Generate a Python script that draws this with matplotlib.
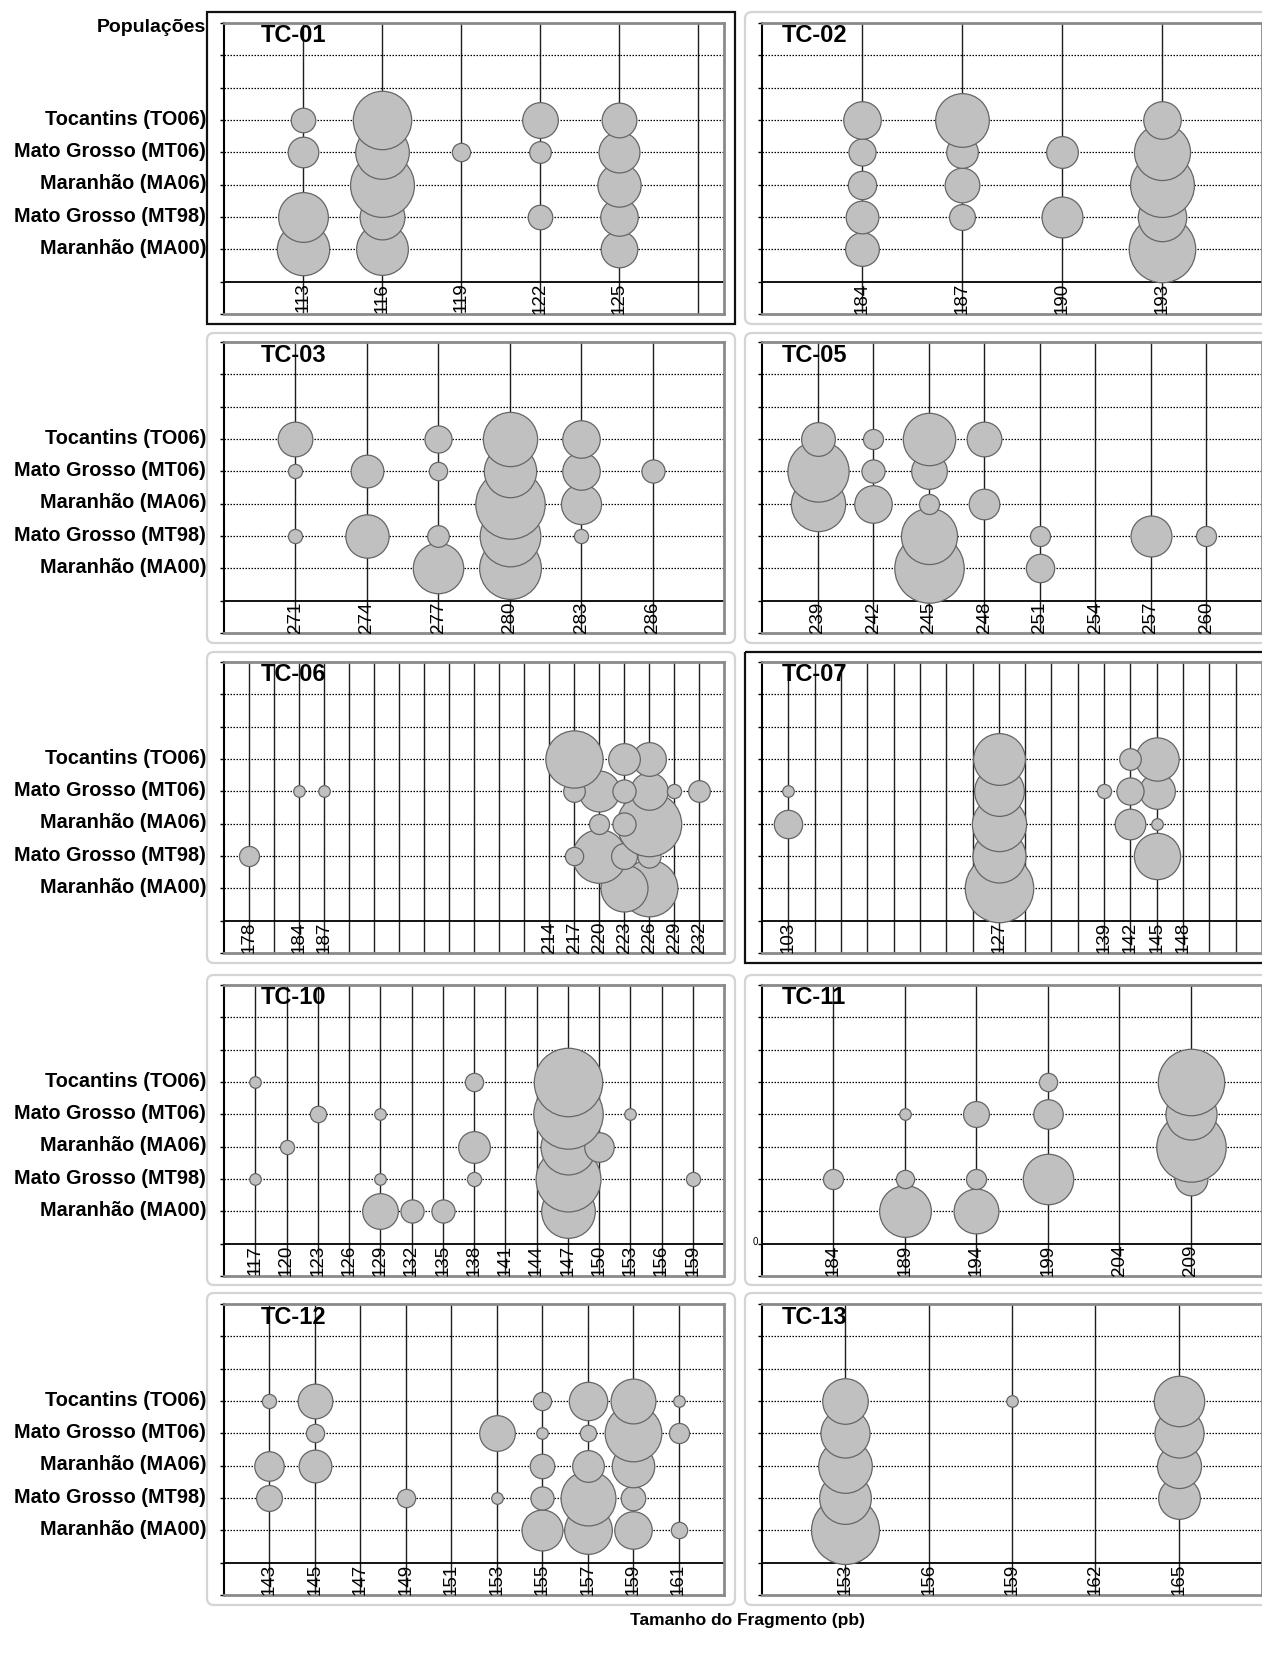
import matplotlib
matplotlib.use("Agg")
import matplotlib.pyplot as plt
from matplotlib.patches import FancyBboxPatch, Rectangle
import numpy as np

plt.rcParams['font.family'] = ['Liberation Sans', 'DejaVu Sans']

# ---------------------------------------------------------------------------
# Data: allele frequencies per microsatellite locus
# rows follow `populations` (y = 1 .. 5), columns follow the allele list
# ---------------------------------------------------------------------------
populations = ["Maranhão (MA00)", "Mato Grosso (MT98)", "Maranhão (MA06)",
               "Mato Grosso (MT06)", "Tocantins (TO06)"]

tc01_alleles = [113, 116, 119, 122, 125]
tc01_freq = [[0.41, 0.40, 0.00, 0.00, 0.20],
             [0.37, 0.30, 0.00, 0.09, 0.21],
             [0.00, 0.61, 0.00, 0.00, 0.28],
             [0.14, 0.43, 0.05, 0.07, 0.25],
             [0.09, 0.51, 0.00, 0.19, 0.18]]
tc01_labels = [113, 116, 119, 122, 125]

tc02_alleles = [184, 187, 190, 193]
tc02_freq = [[0.17, 0.00, 0.00, 0.66],
             [0.16, 0.10, 0.25, 0.35],
             [0.12, 0.18, 0.00, 0.61],
             [0.11, 0.15, 0.15, 0.47],
             [0.21, 0.43, 0.00, 0.21]]
tc02_labels = [184, 187, 190, 193]

tc03_alleles = [271, 274, 277, 280, 283, 286]
tc03_freq = [[0.00, 0.00, 0.38, 0.57, 0.00, 0.00],
             [0.03, 0.28, 0.07, 0.55, 0.03, 0.00],
             [0.00, 0.00, 0.00, 0.72, 0.24, 0.00],
             [0.03, 0.16, 0.05, 0.41, 0.21, 0.08],
             [0.18, 0.00, 0.11, 0.44, 0.21, 0.00]]
tc03_labels = [271, 274, 277, 280, 283, 286]

tc05_alleles = [239, 242, 245, 248, 251, 257, 260]
tc05_freq = [[0.00, 0.00, 0.72, 0.00, 0.12, 0.00, 0.00],
             [0.00, 0.00, 0.47, 0.00, 0.06, 0.25, 0.06],
             [0.44, 0.21, 0.06, 0.14, 0.00, 0.00, 0.00],
             [0.56, 0.08, 0.19, 0.00, 0.00, 0.00, 0.00],
             [0.17, 0.06, 0.41, 0.18, 0.00, 0.00, 0.00]]
tc05_labels = [239, 242, 245, 248, 251, 254, 257, 260]

tc06_alleles = [178, 184, 187, 217, 220, 223, 226, 229, 232]
tc06_freq = [[0.00, 0.00, 0.00, 0.00, 0.00, 0.33, 0.48, 0.00, 0.00],
             [0.06, 0.00, 0.00, 0.05, 0.43, 0.10, 0.08, 0.00, 0.00],
             [0.00, 0.00, 0.00, 0.00, 0.06, 0.08, 0.62, 0.00, 0.00],
             [0.00, 0.02, 0.02, 0.07, 0.25, 0.08, 0.21, 0.03, 0.07],
             [0.00, 0.00, 0.00, 0.49, 0.00, 0.15, 0.17, 0.00, 0.00]]
tc06_labels = [178, 184, 187, 214, 217, 220, 223, 226, 229, 232]

tc07_alleles = [103, 127, 139, 142, 145]
tc07_freq = [[0.00, 0.70, 0.00, 0.00, 0.00],
             [0.00, 0.42, 0.00, 0.00, 0.32],
             [0.12, 0.44, 0.00, 0.14, 0.02],
             [0.02, 0.37, 0.03, 0.11, 0.19],
             [0.00, 0.40, 0.00, 0.07, 0.28]]
tc07_labels = [103, 127, 139, 142, 145, 148]

tc10_alleles = [117, 120, 123, 129, 132, 135, 138, 147, 150, 153, 159]
tc10_freq = [[0.00, 0.00, 0.00, 0.19, 0.08, 0.08, 0.00, 0.43, 0.00, 0.00, 0.00],
             [0.02, 0.00, 0.00, 0.02, 0.00, 0.00, 0.03, 0.63, 0.00, 0.00, 0.03],
             [0.00, 0.03, 0.00, 0.00, 0.00, 0.00, 0.15, 0.45, 0.13, 0.00, 0.00],
             [0.00, 0.00, 0.04, 0.02, 0.00, 0.00, 0.00, 0.72, 0.00, 0.02, 0.00],
             [0.02, 0.00, 0.00, 0.00, 0.00, 0.00, 0.05, 0.70, 0.00, 0.00, 0.00]]
tc10_labels = [117, 120, 123, 126, 129, 132, 135, 138, 141, 144, 147, 150,
               153, 156, 159]

tc11_alleles = [184, 189, 194, 199, 209]
tc11_freq = [[0.00, 0.40, 0.30, 0.00, 0.00],
             [0.06, 0.05, 0.06, 0.38, 0.16],
             [0.00, 0.00, 0.00, 0.00, 0.72],
             [0.00, 0.02, 0.10, 0.13, 0.39],
             [0.00, 0.00, 0.00, 0.05, 0.66]]
tc11_labels = [184, 189, 194, 199, 204, 209]

tc12_alleles = [143, 145, 149, 153, 155, 157, 159, 161]
tc12_freq = [[0.00, 0.00, 0.00, 0.00, 0.25, 0.34, 0.21, 0.04],
             [0.10, 0.00, 0.05, 0.02, 0.08, 0.45, 0.09, 0.00],
             [0.13, 0.16, 0.00, 0.00, 0.09, 0.15, 0.27, 0.00],
             [0.00, 0.05, 0.00, 0.19, 0.02, 0.04, 0.48, 0.06],
             [0.03, 0.18, 0.00, 0.00, 0.05, 0.22, 0.30, 0.02]]
tc12_labels = [143, 145, 147, 149, 151, 153, 155, 157, 159, 161]

tc13_alleles = [153, 159, 165]
tc13_freq = [[0.69, 0.00, 0.00],
             [0.40, 0.00, 0.26],
             [0.43, 0.00, 0.29],
             [0.36, 0.00, 0.36],
             [0.31, 0.02, 0.38]]
tc13_labels = [153, 156, 159, 162, 165]

loci = [
    ("TC-01", tc01_alleles, tc01_freq, tc01_labels),
    ("TC-02", tc02_alleles, tc02_freq, tc02_labels),
    ("TC-03", tc03_alleles, tc03_freq, tc03_labels),
    ("TC-05", tc05_alleles, tc05_freq, tc05_labels),
    ("TC-06", tc06_alleles, tc06_freq, tc06_labels),
    ("TC-07", tc07_alleles, tc07_freq, tc07_labels),
    ("TC-10", tc10_alleles, tc10_freq, tc10_labels),
    ("TC-11", tc11_alleles, tc11_freq, tc11_labels),
    ("TC-12", tc12_alleles, tc12_freq, tc12_labels),
    ("TC-13", tc13_alleles, tc13_freq, tc13_labels),
]

# ---------------------------------------------------------------------------
# Layout / axis styling (pixels on a 1262 x 1662 canvas)
# ---------------------------------------------------------------------------
W, H = 1262, 1662
COL_LEFT = [224, 762]
PLOT_W = 500
ROW_TOP = [23, 342, 662, 985, 1304]
PLOT_H = 291
FRAME_X = [(207, 735), (745, 1290)]
FRAME_Y = [(12, 324), (333, 643), (652, 963), (975, 1285), (1293, 1605)]

# (row, col, x-min, x-max, grid step, frame style)
axis_cfg = {
    "TC-01": (0, 0, 110, 129, 3, "black"),
    "TC-02": (0, 1, 181, 196, 3, "soft"),
    "TC-03": (1, 0, 268, 289, 3, "soft"),
    "TC-05": (1, 1, 236, 263, 3, "soft"),
    "TC-06": (2, 0, 175, 235, 3, "soft"),
    "TC-07": (2, 1, 100, 157, 3, "black"),
    "TC-10": (3, 0, 114, 162, 3, "soft"),
    "TC-11": (3, 1, 179, 214, 5, "soft"),
    "TC-12": (4, 0, 141, 163, 2, "soft"),
    "TC-13": (4, 1, 150, 168, 3, "soft"),
}

Y_MIN, Y_MAX = -1, 8
BUBBLE_AREA = 6.4          # bubble area (in row-height^2) per unit frequency
ROW_PT = PLOT_H * 0.72 / (Y_MAX - Y_MIN)

fig = plt.figure(figsize=(W / 100, H / 100), dpi=100)
fig.patch.set_facecolor("white")

# background layer in pixel coordinates for chart frames and free text
bg = fig.add_axes([0, 0, 1, 1], zorder=-1)
bg.set_xlim(0, W)
bg.set_ylim(H, 0)
bg.axis("off")

for name, (r, c, x0, x1, step, frame) in axis_cfg.items():
    fx0, fx1 = FRAME_X[c]
    fy0, fy1 = FRAME_Y[r]
    if frame == "black":
        bg.add_patch(Rectangle((fx0, fy0), fx1 - fx0, fy1 - fy0, fill=False,
                               edgecolor="#111111", lw=1.6))
    else:
        bg.add_patch(FancyBboxPatch((fx0, fy0), fx1 - fx0, fy1 - fy0,
                                    boxstyle="round,pad=0,rounding_size=7",
                                    fill=False, edgecolor="#d4d4d4", lw=1.6))

bg.text(206, 27.5, "Populações", ha="right", va="center", fontsize=14,
        fontweight="bold")
bg.text(747, 1621, "Tamanho do Fragmento (pb)", ha="center", va="center",
        fontsize=12.5, fontweight="bold")

for name, alleles, freq, labels in loci:
    r, c, x0, x1, step, frame = axis_cfg[name]
    left, top = COL_LEFT[c], ROW_TOP[r]
    ax = fig.add_axes([left / W, 1 - (top + PLOT_H) / H, PLOT_W / W, PLOT_H / H])
    ax.set_xlim(x0, x1)
    ax.set_ylim(Y_MIN, Y_MAX)
    ax.set_facecolor("white")

    # grid: solid verticals at every step, dotted horizontals at each row
    gx = np.arange(x0 + step, x1, step)
    ax.vlines(gx, Y_MIN, Y_MAX, colors="#1e1e1e", lw=1.0, zorder=1)
    ax.hlines(np.arange(1, 8), x0, x1, colors="black", lw=0.9,
              linestyles=(0, (1.2, 1.2)), zorder=1)
    ax.axhline(0, color="black", lw=1.3, zorder=2)

    for s in ["top", "right", "bottom"]:
        ax.spines[s].set_color("#8a8a8a")
        ax.spines[s].set_linewidth(2.0)
    ax.spines["left"].set_color("black")
    ax.spines["left"].set_linewidth(1.5)
    ax.set_xticks([])
    ax.set_yticks(np.arange(Y_MIN, Y_MAX + 1))
    ax.set_yticklabels([])
    ax.tick_params(axis="y", length=3, width=1, color="black", direction="out")

    # bubbles: one series per population, bottom row first;
    # inside a series the larger bubbles go underneath
    z = 3.0
    for yi, row in enumerate(freq):
        pts = [(a, f) for a, f in zip(alleles, row) if f > 0]
        pts.sort(key=lambda p: -p[1])
        for a, f in pts:
            ax.scatter(a, yi + 1, s=BUBBLE_AREA * f * ROW_PT ** 2,
                       facecolor="#c0c0c0", edgecolor="#666666",
                       linewidths=0.9, zorder=z)
            z += 0.01

    # fragment-size labels under the zero line
    for lb in labels:
        ax.text(lb, -0.03, str(lb), rotation=90, ha="center", va="top",
                fontsize=13.5, zorder=5)

    # panel title
    tx = (37 if c == 0 else 20) / PLOT_W
    ax.text(tx, 1 - 13 / PLOT_H, name, transform=ax.transAxes, ha="left",
            va="center", fontsize=17, fontweight="bold", zorder=6)

    if c == 0:
        ytr = ax.get_yaxis_transform()
        for yi, pop in enumerate(populations):
            ax.text(-18 / PLOT_W, yi + 1 + 0.03, pop, transform=ytr,
                    ha="right", va="center", fontsize=14.3, fontweight="bold",
                    clip_on=False)
    if name == "TC-11":
        ax.text(-4 / PLOT_W, 0.05, "0", transform=ax.get_yaxis_transform(),
                ha="right", va="center", fontsize=7, clip_on=False)

fig.savefig("out.png", dpi=100, facecolor="white")
